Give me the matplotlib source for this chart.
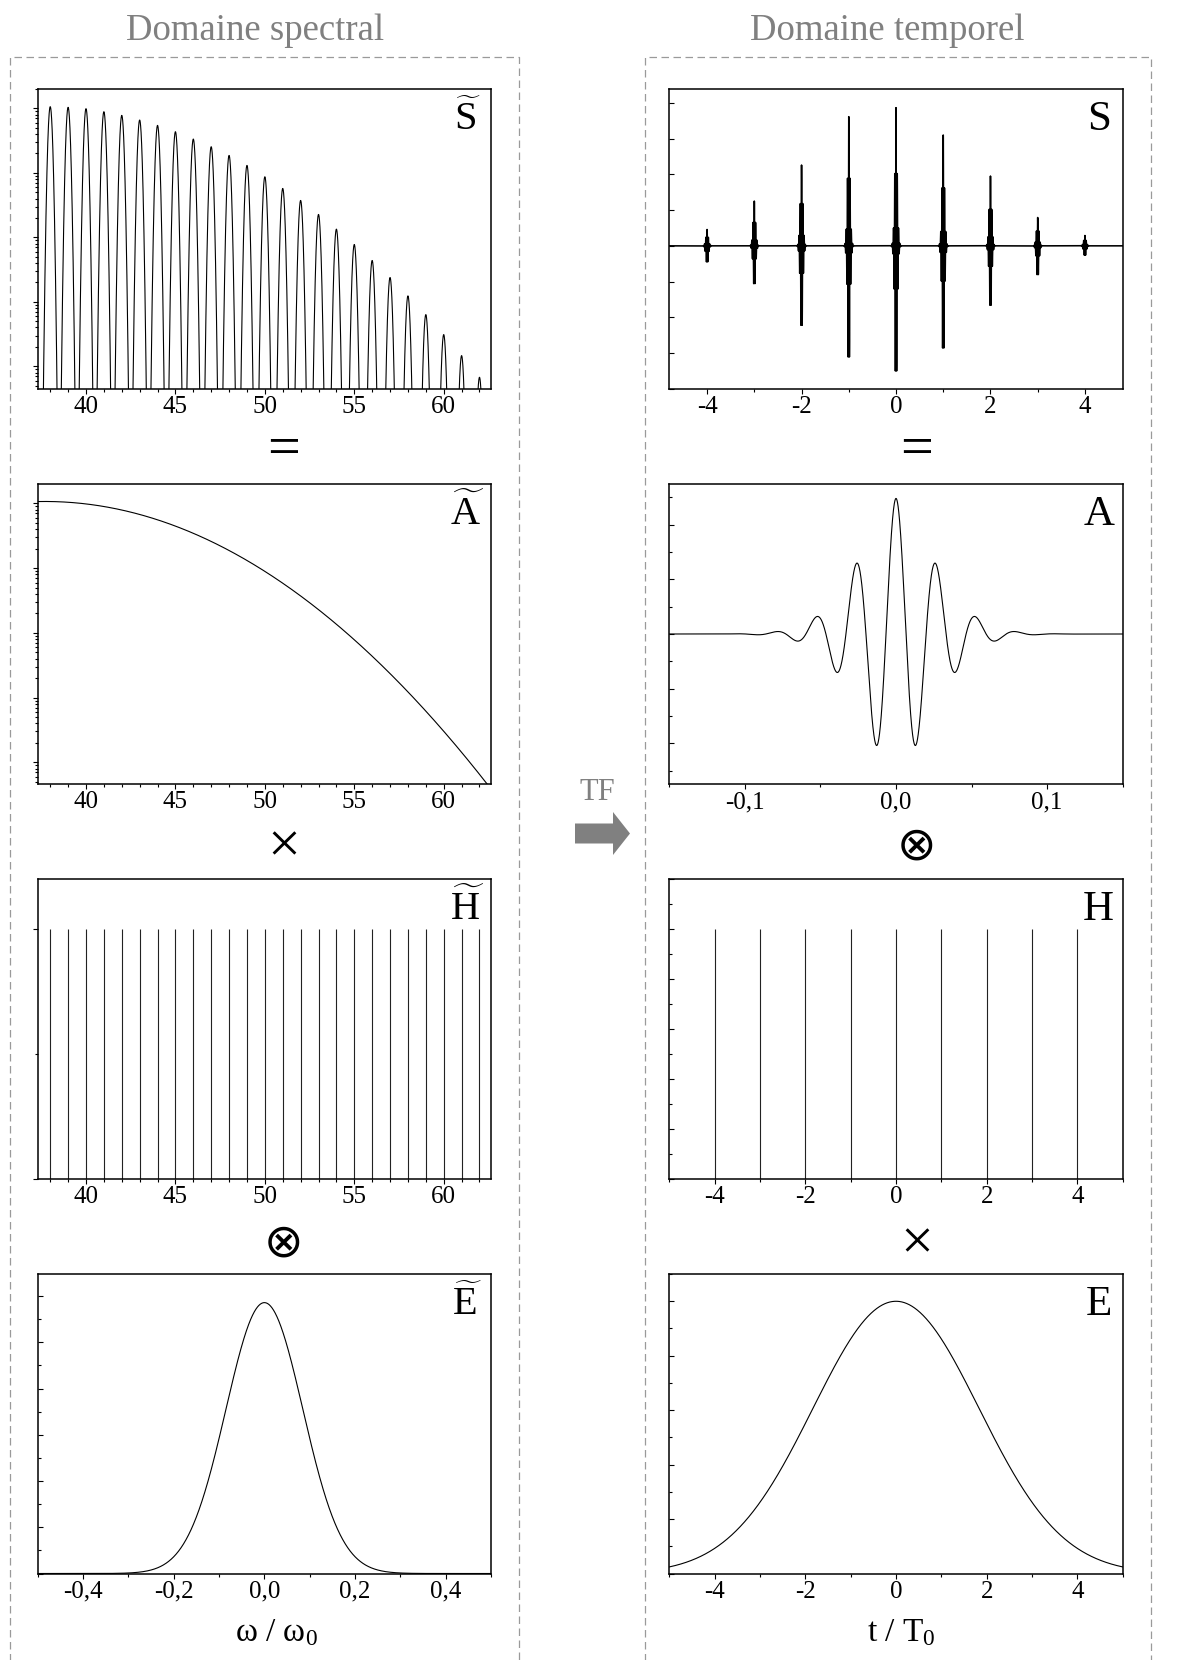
import numpy as np
import matplotlib
matplotlib.use("Agg")
import matplotlib.pyplot as plt
from matplotlib.lines import Line2D
from matplotlib.patches import FancyArrow
from matplotlib.transforms import Affine2D
from matplotlib.ticker import MultipleLocator, FuncFormatter, LogLocator, NullFormatter

plt.rcParams['font.family'] = ['Liberation Serif', 'DejaVu Sans']
plt.rcParams['mathtext.fontset'] = 'custom'
plt.rcParams['mathtext.rm'] = 'Liberation Serif'
plt.rcParams['mathtext.it'] = 'Liberation Serif:italic'
plt.rcParams['axes.unicode_minus'] = False

W, H = 1191, 1660

# ---- values ----
# spectral comb teeth (omega / omega_0) and peak heights of S~ (log10)
comb_n = [38, 39, 40, 41, 42, 43, 44, 45, 46, 47, 48, 49, 50,
          51, 52, 53, 54, 55, 56, 57, 58, 59, 60, 61, 62]
s_peak_log = [0.026, 0.016, -0.005, -0.052, -0.109, -0.181, -0.264, -0.362,
              -0.476, -0.595, -0.730, -0.885, -1.061, -1.242, -1.428, -1.645,
              -1.873, -2.111, -2.359, -2.623, -2.908, -3.198, -3.508, -3.834,
              -4.170]
# A~ envelope (log10) at a few frequencies
a_spec_x = [37.3, 40, 45, 50, 55, 60, 62.43]
a_spec_log = [0.026, 0.0, -0.363, -1.034, -2.12, -3.51, -4.34]
h_spec_height = 1.0
# E~ gaussian: peak and half width at half maximum
e_spec_peak = 5.86
e_spec_hwhm = 0.0998

# time domain
burst_t = [-4, -3, -2, -1, 0, 1, 2, 3, 4]
burst_top = [0.457, 1.253, 2.262, 3.617, 3.869, 3.103, 1.954, 0.793, 0.289]
burst_bot = [0.449, 1.057, 2.223, 3.112, 3.504, 2.860, 1.662, 0.805, 0.261]
a_peak = 2.48
a_trough = 2.04
a_period = 0.0265
a_env_width = 0.034
a_env_power = 1.65
h_t = [-4, -3, -2, -1, 0, 1, 2, 3, 4]
h_height = 5.0
e_t_peak = 5.0
e_t_read_t = [2.0, 4.0, 5.0]
e_t_read_v = [2.66, 0.49, 0.135]

LW = 0.8
fig = plt.figure(figsize=(W / 100, H / 100), dpi=100)
px = Affine2D().scale(1 / W, -1 / H).translate(0, 1) + fig.transFigure

COLS = [37.7, 669.3]
ROWS = [88.7, 484, 879, 1273.5]
PW, PH = 453.4, 300


def panel(col, row):
    x0, y0 = COLS[col], ROWS[row]
    ax = fig.add_axes([x0 / W, 1 - (y0 + PH) / H, PW / W, PH / H])
    for s in ax.spines.values():
        s.set_linewidth(1.1)
    return ax


def style(ax, ydir, xfmt):
    ax.tick_params(axis='x', which='both', direction='out', top=False,
                   labelsize=18, pad=1.5, width=0.8)
    ax.tick_params(axis='x', which='major', length=3.8)
    ax.tick_params(axis='x', which='minor', length=2.3)
    ax.tick_params(axis='y', which='both', direction=ydir, right=False,
                   labelleft=False, width=0.8)
    ax.tick_params(axis='y', which='major', length=3.8)
    ax.tick_params(axis='y', which='minor', length=2.3)
    ax.xaxis.set_major_formatter(FuncFormatter(xfmt))


def fmt_int(v, pos):
    return '%d' % round(v)


def fmt_dec(v, pos):
    if abs(v) < 1e-9:
        v = 0.0
    return ('%.1f' % v).replace('.', ',')


def label(col, row, s, tilde=False):
    x = COLS[col] + PW - 24
    y = ROWS[row] + 41
    if tilde:
        fig.text(x, y, r'$\widetilde{\mathrm{%s}}$' % s, transform=px,
                 ha='center', va='baseline', size=29)
    else:
        fig.text(x, y, s, transform=px, ha='center', va='baseline', size=31)


# ---------- spectral side ----------
x_spec = np.linspace(37.3, 62.65, 30000)
sig_spec = e_spec_hwhm / np.sqrt(2 * np.log(2))

# S~
ax = panel(0, 0)
s_spec = np.zeros_like(x_spec)
for n, p in zip(comb_n, s_peak_log):
    s_spec += 10 ** p * np.exp(-(x_spec - n) ** 2 / (2 * sig_spec ** 2))
ax.plot(x_spec, s_spec, color='black', lw=LW)
ax.set_yscale('log')
ax.set_ylim(10 ** -4.347, 10 ** 0.305)
ax.set_xlim(37.3, 62.65)
ax.yaxis.set_major_locator(LogLocator(base=10))
ax.yaxis.set_minor_locator(LogLocator(base=10, subs=np.arange(2, 10)))
ax.yaxis.set_minor_formatter(NullFormatter())
ax.xaxis.set_major_locator(MultipleLocator(5))
ax.xaxis.set_minor_locator(MultipleLocator(1))
style(ax, 'out', fmt_int)
label(0, 0, 'S', tilde=True)

# A~
ax = panel(0, 1)
coef = np.polyfit(a_spec_x, a_spec_log, 2)
ax.plot(x_spec, 10 ** np.polyval(coef, x_spec), color='black', lw=LW)
ax.set_yscale('log')
ax.set_ylim(10 ** -4.335, 10 ** 0.3)
ax.set_xlim(37.3, 62.65)
ax.yaxis.set_major_locator(LogLocator(base=10))
ax.yaxis.set_minor_locator(LogLocator(base=10, subs=np.arange(2, 10)))
ax.yaxis.set_minor_formatter(NullFormatter())
ax.xaxis.set_major_locator(MultipleLocator(5))
ax.xaxis.set_minor_locator(MultipleLocator(1))
style(ax, 'out', fmt_int)
label(0, 1, 'A', tilde=True)

# H~
ax = panel(0, 2)
ax.vlines(comb_n, 0, h_spec_height, color='#222222', lw=LW)
ax.set_ylim(0, 1.2)
ax.set_xlim(37.3, 62.65)
ax.yaxis.set_major_locator(MultipleLocator(1))
ax.yaxis.set_minor_locator(MultipleLocator(0.5))
ax.xaxis.set_major_locator(MultipleLocator(5))
ax.xaxis.set_minor_locator(MultipleLocator(1))
style(ax, 'out', fmt_int)
label(0, 2, 'H', tilde=True)

# E~
ax = panel(0, 3)
w = np.linspace(-0.5, 0.5, 2000)
ax.plot(w, e_spec_peak * np.exp(-w ** 2 / (2 * sig_spec ** 2)), color='black', lw=LW)
ax.set_xlim(-0.5, 0.5)
ax.set_ylim(0, 6.49)
ax.yaxis.set_major_locator(MultipleLocator(1))
ax.yaxis.set_minor_locator(MultipleLocator(0.5))
ax.xaxis.set_major_locator(MultipleLocator(0.2))
ax.xaxis.set_minor_locator(MultipleLocator(0.1))
style(ax, 'in', fmt_dec)
label(0, 3, 'E', tilde=True)

# ---------- temporal side ----------


def wavelet(tau):
    env = np.exp(-(np.abs(tau) / a_env_width) ** a_env_power)
    return np.cos(2 * np.pi * tau / a_period) * env


tau = np.linspace(-0.15, 0.15, 8001)
raw = wavelet(tau)
neg_scale = 1 / abs(raw.min())

# S
ax = panel(1, 0)
t = np.linspace(-4.8, 4.8, 60001)
s_t = np.zeros_like(t)
for n, top, bot in zip(burst_t, burst_top, burst_bot):
    r = wavelet(t - n) * (np.abs(t - n) < 0.15)
    s_t += np.where(r > 0, r * top, r * neg_scale * bot)
ax.plot(t, s_t, color='black', lw=1.15)
ax.set_xlim(-4.8, 4.8)
ax.set_ylim(-4.0, 4.4)
ax.yaxis.set_major_locator(MultipleLocator(1))
ax.xaxis.set_major_locator(MultipleLocator(2))
ax.xaxis.set_minor_locator(MultipleLocator(1))
style(ax, 'in', fmt_int)
label(1, 0, 'S')

# A
ax = panel(1, 1)
a_t = np.where(raw > 0, raw * a_peak, raw * neg_scale * a_trough)
ax.plot(tau, a_t, color='black', lw=LW)
ax.set_xlim(-0.15, 0.15)
ax.set_ylim(-2.744, 2.744)
ax.yaxis.set_major_locator(MultipleLocator(1))
ax.yaxis.set_minor_locator(MultipleLocator(0.5))
ax.xaxis.set_major_locator(MultipleLocator(0.1))
ax.xaxis.set_minor_locator(MultipleLocator(0.05))
style(ax, 'in', fmt_dec)
label(1, 1, 'A')

# H
ax = panel(1, 2)
ax.vlines(h_t, 0, h_height, color='#222222', lw=LW)
ax.set_xlim(-5, 5)
ax.set_ylim(0, 6)
ax.yaxis.set_major_locator(MultipleLocator(1))
ax.yaxis.set_minor_locator(MultipleLocator(0.5))
ax.xaxis.set_major_locator(MultipleLocator(2))
ax.xaxis.set_minor_locator(MultipleLocator(1))
style(ax, 'in', fmt_int)
label(1, 2, 'H')

# E
ax = panel(1, 3)
rt = np.array(e_t_read_t)
rv = np.array(e_t_read_v)
sig_t = np.mean(rt / np.sqrt(2 * np.log(e_t_peak / rv)))
tt = np.linspace(-5, 5, 2000)
ax.plot(tt, e_t_peak * np.exp(-tt ** 2 / (2 * sig_t ** 2)), color='black', lw=LW)
ax.set_xlim(-5, 5)
ax.set_ylim(0, 5.51)
ax.yaxis.set_major_locator(MultipleLocator(1))
ax.yaxis.set_minor_locator(MultipleLocator(0.5))
ax.xaxis.set_major_locator(MultipleLocator(2))
ax.xaxis.set_minor_locator(MultipleLocator(1))
style(ax, 'in', fmt_int)
label(1, 3, 'E')

# ---------- decorations ----------
GREY = '#808080'
fig.text(254.7, 39.5, 'Domaine spectral', transform=px, ha='center',
         va='baseline', size=26.5, color=GREY)
fig.text(887, 39.5, 'Domaine temporel', transform=px, ha='center',
         va='baseline', size=26.5, color=GREY)

for x0, x1 in [(10, 519), (645, 1151)]:
    fig.add_artist(Line2D([x0, x0, x1, x1], [H + 5, 57.3, 57.3, H + 5],
                          transform=px, color='#9a9a9a', lw=0.9,
                          linestyle=(0, (6, 3.6))))

ops = [('=', '='), ('×', '⊗'), ('⊗', '×')]
op_y = [451, 848, 1245]
for (lo, ro), y in zip(ops, op_y):
    for x, s in [(284, lo), (917, ro)]:
        size = 34 if s == '⊗' else 42
        fig.text(x, y, s, transform=px, ha='center', va='center', size=size,
                 family=['Liberation Serif', 'DejaVu Sans'])

fig.text(597.5, 800, 'TF', transform=px, ha='center', va='baseline',
         size=22, color=GREY)
fig.add_artist(FancyArrow(575, 833.5, 55, 0, width=20, head_width=43,
                          head_length=17, length_includes_head=True,
                          transform=px, color=GREY, lw=0))

fig.text(276, 1641, 'ω / ω$_0$', transform=px, ha='center', va='baseline', size=24)
fig.text(901, 1641, 't / T$_0$', transform=px, ha='center', va='baseline', size=24)

fig.savefig('out.png', dpi=100)
